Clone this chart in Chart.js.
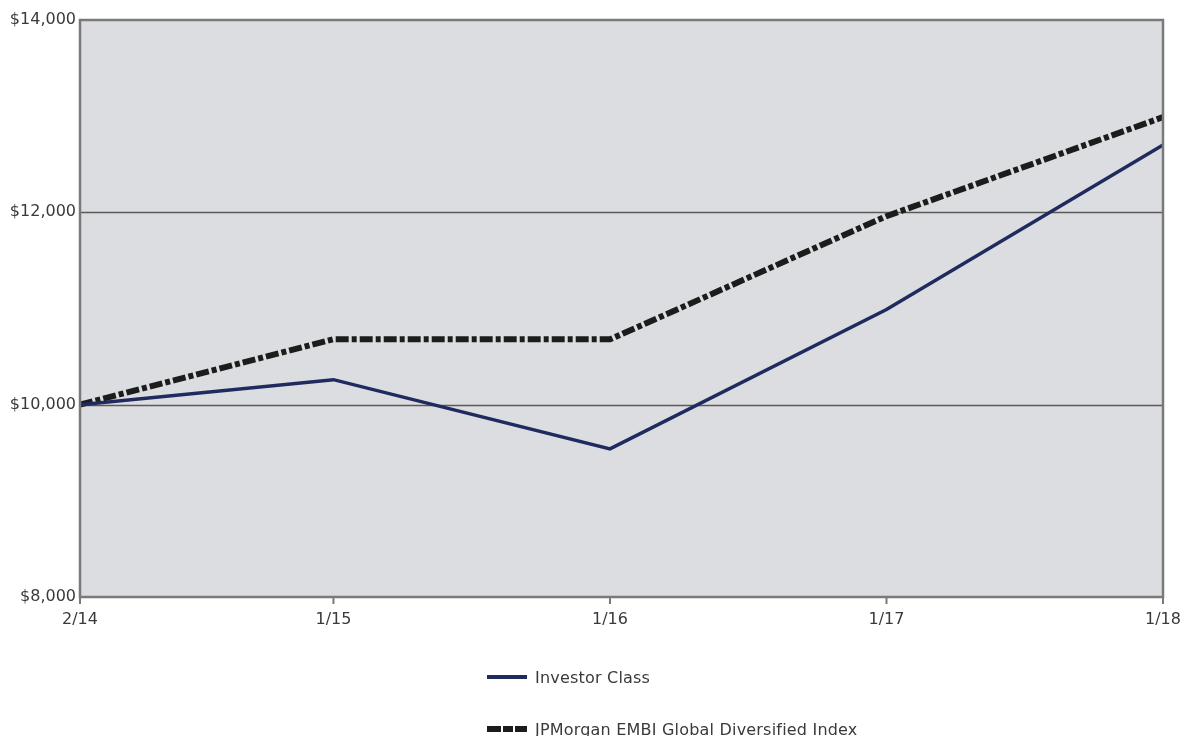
<!DOCTYPE html>
<html>
<head>
<meta charset="utf-8">
<script src="https://cdn.jsdelivr.net/npm/chart.js@4/dist/chart.umd.min.js"></script>
<style>
  html, body { margin: 0; padding: 0; background: #fff; }
  #wrap { position: relative; width: 1184px; height: 736px; }
  #legend { position: absolute; left: 487px; top: 664px; font-family: "DejaVu Sans", sans-serif; font-size: 16px; letter-spacing: 0.2px; color: #3a3a3a; }
  .item { display: flex; align-items: center; height: 26px; }
  .item + .item { margin-top: 26px; }
  .swatch { width: 40px; height: 4px; margin-right: 8px; }
</style>
</head>
<body>
<div id="wrap">
  <canvas id="c" width="1184" height="736"></canvas>
  <div id="legend"></div>
</div>
<script>
// Period labels and their offsets in months from the start of the series
const periodLabels = ['2/14', '1/15', '1/16', '1/17', '1/18'];
const monthOffsets = [0, 11, 23, 35, 47];

// Growth of a hypothetical $10,000 investment
const investorClass = [10000, 10260, 9540, 10990, 12700];
const embiIndex = [10000, 10680, 10680, 11960, 12990];

const seriesNames = ['Investor Class', 'JPMorgan EMBI Global Diversified Index'];
const yTicks = [8000, 10000, 12000, 14000];

const toPoints = vals => vals.map((v, i) => ({ x: monthOffsets[i], y: v }));

const plotFrame = {
  id: 'plotFrame',
  beforeDatasetsDraw(chart) {
    const { ctx, chartArea: a } = chart;
    ctx.save();
    ctx.fillStyle = '#dcdde0';
    ctx.fillRect(a.left, a.top, a.right - a.left, a.bottom - a.top);
    // horizontal grid lines
    ctx.strokeStyle = '#5a5a5a';
    ctx.lineWidth = 1.5;
    const ys = chart.scales.y;
    yTicks.slice(1, -1).forEach(v => {
      const py = Math.round(ys.getPixelForValue(v)) + 0.5;
      ctx.beginPath(); ctx.moveTo(a.left, py); ctx.lineTo(a.right, py); ctx.stroke();
    });
    ctx.restore();
  },
  afterDraw(chart) {
    const { ctx, chartArea: a } = chart;
    ctx.save();
    ctx.strokeStyle = '#7a7a7a';
    ctx.lineWidth = 2.5;
    ctx.strokeRect(a.left, a.top, a.right - a.left, a.bottom - a.top);
    // tick marks under the x axis
    ctx.lineWidth = 2;
    const xs = chart.scales.x;
    monthOffsets.forEach(m => {
      const px = xs.getPixelForValue(m);
      ctx.beginPath(); ctx.moveTo(px, a.bottom); ctx.lineTo(px, a.bottom + 7); ctx.stroke();
    });
    ctx.restore();
  }
};

const tickFont = { family: 'DejaVu Sans', size: 16 };

const chart = new Chart(document.getElementById('c'), {
  type: 'line',
  data: {
    datasets: [
      {
        label: seriesNames[1],
        data: toPoints(embiIndex),
        borderColor: '#1c1c1c',
        borderWidth: 6,
        borderDash: [13, 3, 5, 3],
        borderCapStyle: 'butt',
        pointRadius: 0,
        tension: 0,
        order: 2
      },
      {
        label: seriesNames[0],
        data: toPoints(investorClass),
        borderColor: '#1f2b5e',
        borderWidth: 3.5,
        pointRadius: 0,
        tension: 0,
        order: 1
      }
    ]
  },
  options: {
    responsive: false,
    animation: false,
    layout: { padding: { top: 20, right: 0, left: 0, bottom: 99 } },
    plugins: { legend: { display: false }, tooltip: { enabled: false } },
    scales: {
      x: {
        type: 'linear',
        min: monthOffsets[0],
        max: monthOffsets[monthOffsets.length - 1],
        afterBuildTicks: s => { s.ticks = monthOffsets.map(v => ({ value: v })); },
        afterFit: s => { s.height = 40; s.paddingRight = 21; },
        grid: { display: false, drawTicks: false },
        border: { display: false },
        ticks: {
          autoSkip: false,
          maxRotation: 0,
          padding: 13,
          color: '#3a3a3a',
          font: tickFont,
          callback: v => periodLabels[monthOffsets.indexOf(v)]
        }
      },
      y: {
        min: 8000,
        max: 14000,
        afterBuildTicks: s => { s.ticks = yTicks.map(v => ({ value: v })); },
        afterFit: s => { s.width = 80; },
        grid: { display: false, drawTicks: false },
        border: { display: false },
        ticks: {
          padding: 4,
          color: '#3a3a3a',
          font: tickFont,
          callback: v => '$' + v.toLocaleString('en-US')
        }
      }
    }
  },
  plugins: [plotFrame]
});

// Legend below the chart
const legend = document.getElementById('legend');
chart.data.datasets.slice().reverse().forEach(ds => {
  const item = document.createElement('div');
  item.className = 'item';
  const sw = document.createElement('div');
  sw.className = 'swatch';
  if (ds.borderDash) {
    sw.style.height = '6px';
    sw.style.background = 'linear-gradient(to right, #1c1c1c 0 14px, transparent 14px 16px, #1c1c1c 16px 26px, transparent 26px 28px, #1c1c1c 28px 40px)';
  } else {
    sw.style.background = ds.borderColor;
  }
  const tx = document.createElement('span');
  tx.textContent = ds.label;
  item.appendChild(sw);
  item.appendChild(tx);
  legend.appendChild(item);
});
</script>
</body>
</html>
